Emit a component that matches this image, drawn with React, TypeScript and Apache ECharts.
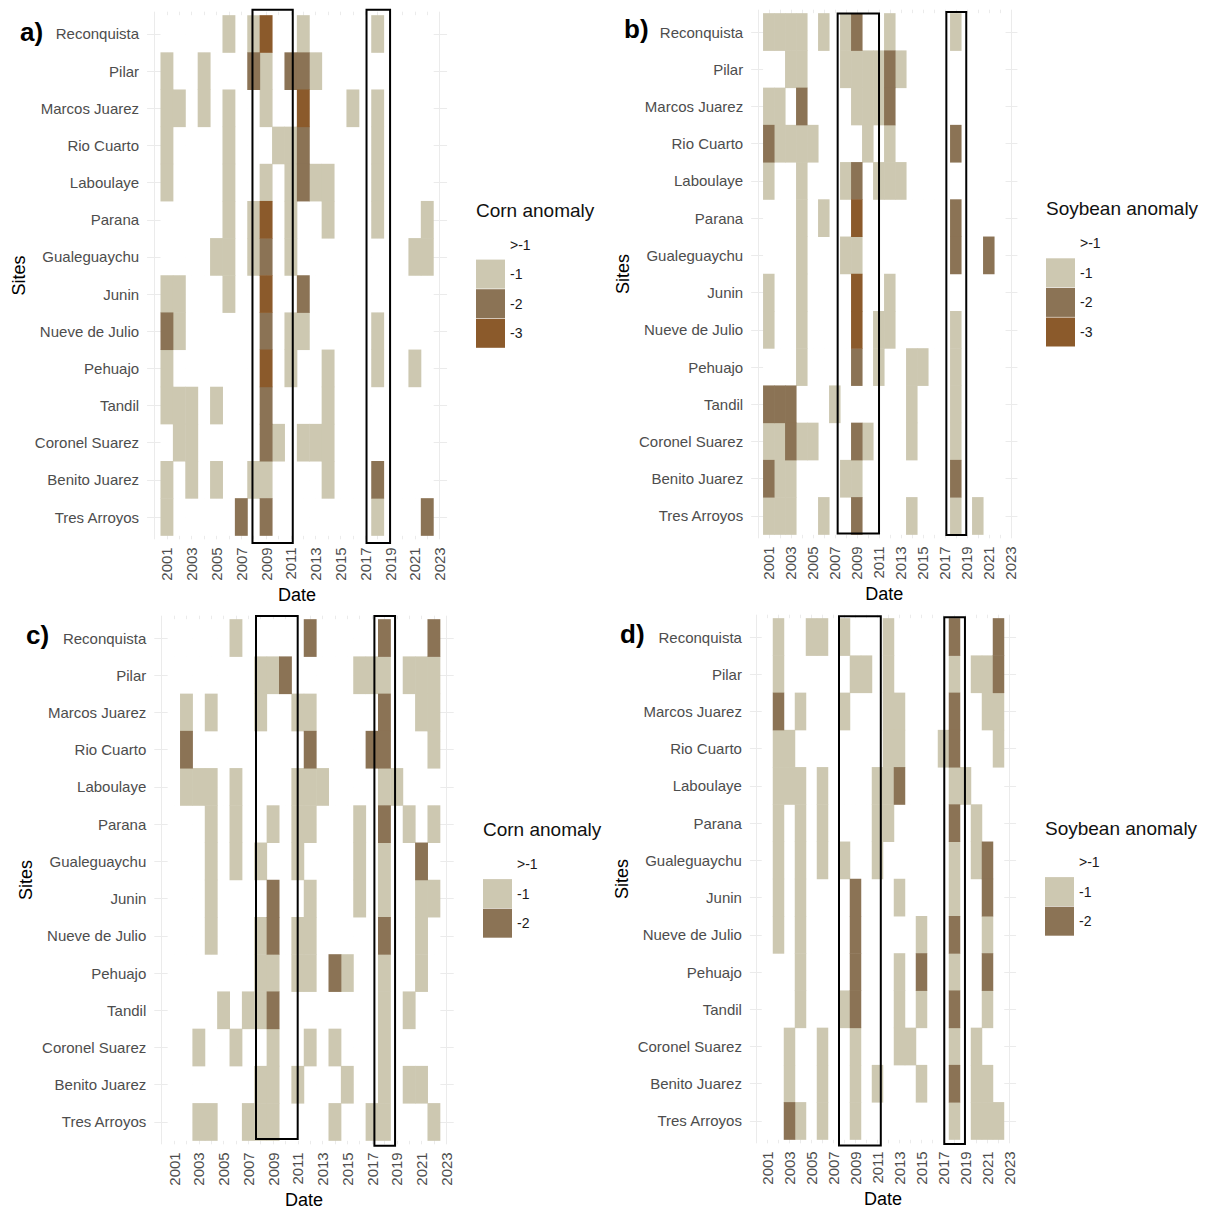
import React, { useEffect, useRef } from "react";
import * as echarts from "echarts";

// ---------- data ----------
const sites = [
  "Reconquista", "Pilar", "Marcos Juarez", "Rio Cuarto", "Laboulaye", "Parana", "Gualeguaychu",
  "Junin", "Nueve de Julio", "Pehuajo", "Tandil", "Coronel Suarez", "Benito Juarez", "Tres Arroyos",
];
const dataYears = [2001, 2002, 2003, 2004, 2005, 2006, 2007, 2008, 2009, 2010, 2011, 2012, 2013, 2014, 2015, 2016, 2017, 2018, 2019, 2020, 2021, 2022];
const tickYears = [2001, 2003, 2005, 2007, 2009, 2011, 2013, 2015, 2017, 2019, 2021, 2023];
const gridYears = [2000, 2001, 2002, 2003, 2004, 2005, 2006, 2007, 2008, 2009, 2010, 2011, 2012, 2013, 2014, 2015, 2016, 2017, 2018, 2019, 2020, 2021, 2022, 2023];
const classLabels = [">-1", "-1", "-2", "-3"];
const classColors = ["#FFFFFF", "#CDC8B1", "#8B7355", "#8B5A2B"];

// [year, class] pairs for each site (class 1 => -1, 2 => -2, 3 => -3; others are >-1)
const cornA: [number, number][][] = [
  [[2006, 1], [2008, 1], [2009, 3], [2012, 1], [2018, 1]],
  [[2001, 1], [2004, 1], [2008, 2], [2009, 1], [2011, 2], [2012, 2], [2013, 1]],
  [[2001, 1], [2002, 1], [2004, 1], [2006, 1], [2009, 1], [2012, 3], [2016, 1], [2018, 1]],
  [[2001, 1], [2006, 1], [2010, 1], [2011, 1], [2012, 2], [2018, 1]],
  [[2001, 1], [2006, 1], [2009, 1], [2011, 1], [2012, 2], [2013, 1], [2014, 1], [2018, 1]],
  [[2006, 1], [2008, 1], [2009, 3], [2011, 1], [2014, 1], [2018, 1], [2022, 1]],
  [[2005, 1], [2006, 1], [2008, 1], [2009, 2], [2011, 1], [2021, 1], [2022, 1]],
  [[2001, 1], [2002, 1], [2006, 1], [2009, 3], [2012, 2]],
  [[2001, 2], [2002, 1], [2009, 2], [2011, 1], [2012, 1], [2018, 1]],
  [[2001, 1], [2009, 3], [2011, 1], [2014, 1], [2018, 1], [2021, 1]],
  [[2001, 1], [2002, 1], [2003, 1], [2005, 1], [2009, 2], [2014, 1]],
  [[2002, 1], [2003, 1], [2009, 2], [2010, 1], [2012, 1], [2013, 1], [2014, 1]],
  [[2001, 1], [2003, 1], [2005, 1], [2008, 1], [2009, 1], [2014, 1], [2018, 2]],
  [[2001, 1], [2007, 2], [2009, 2], [2018, 1], [2022, 2]],
];
const soyB: [number, number][][] = [
  [[2001, 1], [2002, 1], [2003, 1], [2004, 1], [2006, 1], [2008, 1], [2009, 2], [2012, 1], [2018, 1]],
  [[2003, 1], [2004, 1], [2008, 1], [2009, 1], [2010, 1], [2011, 1], [2012, 2], [2013, 1]],
  [[2001, 1], [2002, 1], [2004, 2], [2009, 1], [2010, 1], [2011, 1], [2012, 2]],
  [[2001, 2], [2002, 1], [2003, 1], [2004, 1], [2005, 1], [2010, 1], [2012, 1], [2018, 2]],
  [[2001, 1], [2004, 1], [2008, 1], [2009, 2], [2011, 1], [2012, 1], [2013, 1]],
  [[2004, 1], [2006, 1], [2009, 3], [2018, 2]],
  [[2004, 1], [2008, 1], [2009, 1], [2018, 2], [2021, 2]],
  [[2001, 1], [2004, 1], [2009, 3], [2012, 1]],
  [[2001, 1], [2004, 1], [2009, 3], [2011, 1], [2012, 1], [2018, 1]],
  [[2004, 1], [2009, 2], [2011, 1], [2014, 1], [2015, 1], [2018, 1]],
  [[2001, 2], [2002, 2], [2003, 2], [2007, 1], [2014, 1], [2018, 1]],
  [[2001, 1], [2002, 1], [2003, 2], [2004, 1], [2005, 1], [2009, 2], [2010, 1], [2014, 1], [2018, 1]],
  [[2001, 2], [2002, 1], [2003, 1], [2008, 1], [2009, 1], [2018, 2]],
  [[2001, 1], [2002, 1], [2003, 1], [2006, 1], [2009, 2], [2014, 1], [2018, 1], [2020, 1]],
];
const cornC: [number, number][][] = [
  [[2006, 1], [2012, 2], [2018, 2], [2022, 2]],
  [[2008, 1], [2009, 1], [2010, 2], [2016, 1], [2017, 1], [2018, 1], [2020, 1], [2021, 1], [2022, 1]],
  [[2002, 1], [2004, 1], [2008, 1], [2011, 1], [2012, 1], [2018, 2], [2021, 1], [2022, 1]],
  [[2002, 2], [2012, 2], [2017, 2], [2018, 2], [2022, 1]],
  [[2002, 1], [2003, 1], [2004, 1], [2006, 1], [2011, 1], [2012, 1], [2013, 1], [2018, 1], [2019, 1]],
  [[2004, 1], [2006, 1], [2009, 1], [2011, 1], [2012, 1], [2016, 1], [2018, 2], [2020, 1], [2022, 1]],
  [[2004, 1], [2006, 1], [2008, 1], [2011, 1], [2016, 1], [2018, 1], [2021, 2]],
  [[2004, 1], [2009, 2], [2012, 1], [2016, 1], [2018, 1], [2021, 1], [2022, 1]],
  [[2004, 1], [2008, 1], [2009, 2], [2011, 1], [2012, 1], [2018, 2], [2021, 1]],
  [[2008, 1], [2009, 1], [2011, 1], [2012, 1], [2014, 2], [2015, 1], [2018, 1], [2021, 1]],
  [[2005, 1], [2007, 1], [2008, 1], [2009, 2], [2018, 1], [2020, 1]],
  [[2003, 1], [2006, 1], [2009, 1], [2012, 1], [2014, 1], [2018, 1]],
  [[2008, 1], [2009, 1], [2011, 1], [2015, 1], [2018, 1], [2020, 1], [2021, 1]],
  [[2003, 1], [2004, 1], [2007, 1], [2008, 1], [2009, 1], [2014, 1], [2017, 1], [2018, 1], [2022, 1]],
];
const soyD: [number, number][][] = [
  [[2002, 1], [2005, 1], [2006, 1], [2008, 1], [2012, 1], [2018, 2], [2022, 2]],
  [[2002, 1], [2009, 1], [2010, 1], [2012, 1], [2018, 1], [2020, 1], [2021, 1], [2022, 2]],
  [[2002, 2], [2004, 1], [2008, 1], [2012, 1], [2013, 1], [2018, 2], [2021, 1], [2022, 1]],
  [[2002, 1], [2003, 1], [2012, 1], [2013, 1], [2017, 1], [2018, 2], [2022, 1]],
  [[2002, 1], [2003, 1], [2004, 1], [2006, 1], [2011, 1], [2012, 1], [2013, 2], [2018, 1], [2019, 1]],
  [[2002, 1], [2004, 1], [2006, 1], [2011, 1], [2012, 1], [2018, 2], [2020, 1]],
  [[2002, 1], [2004, 1], [2006, 1], [2008, 1], [2011, 1], [2018, 1], [2020, 1], [2021, 2]],
  [[2002, 1], [2004, 1], [2009, 2], [2013, 1], [2018, 1], [2021, 2]],
  [[2002, 1], [2004, 1], [2009, 2], [2015, 1], [2018, 2], [2021, 1]],
  [[2004, 1], [2009, 2], [2013, 1], [2015, 2], [2018, 1], [2021, 2]],
  [[2004, 1], [2008, 1], [2009, 2], [2013, 1], [2015, 1], [2018, 2], [2021, 1]],
  [[2003, 1], [2006, 1], [2009, 1], [2013, 1], [2014, 1], [2018, 1], [2020, 1]],
  [[2003, 1], [2006, 1], [2009, 1], [2011, 1], [2015, 1], [2018, 2], [2020, 1], [2021, 1]],
  [[2003, 2], [2004, 1], [2006, 1], [2009, 1], [2018, 1], [2020, 1], [2021, 1], [2022, 1]],
];

// highlight boxes: [xStart, xEnd, yTop, yBottom] in axis units
const boxesA = [[2007.9, 2011.15, -0.65, 13.7], [2017.1, 2019.0, -0.65, 13.7]];
const boxesB = [[2007.26, 2011.02, -0.5, 13.47], [2017.14, 2018.95, -0.54, 13.51]];
const boxesC = [[2007.62, 2010.99, -0.59, 13.46], [2017.19, 2018.86, -0.59, 13.64]];
const boxesD = [[2007.5, 2011.3, -0.56, 13.66], [2017.07, 2018.95, -0.53, 13.62]];

// ---------- layout ----------
const FONT = "Liberation Sans, Arial, Helvetica, sans-serif";
const panels = [
  { letter: "a)", data: cornA, classes: 4, boxes: boxesA, title: "Corn anomaly",
    grid: { left: 147.1, top: 11.7, width: 300, height: 527.6 },
    letterPos: [20, 34], legendTitle: [476, 212], legendTop: 230, legendLeft: 476 },
  { letter: "b)", data: soyB, classes: 4, boxes: boxesB, title: "Soybean anomaly",
    grid: { left: 751.2, top: 9.7, width: 266.2, height: 528.6 },
    letterPos: [624, 31], legendTitle: [1046, 210], legendTop: 228.7, legendLeft: 1046 },
  { letter: "c)", data: cornC, classes: 3, boxes: boxesC, title: "Corn anomaly",
    grid: { left: 154.3, top: 615.7, width: 299.4, height: 528.6 },
    letterPos: [26, 637], legendTitle: [483, 831], legendTop: 849.5, legendLeft: 483 },
  { letter: "d)", data: soyD, classes: 3, boxes: boxesD, title: "Soybean anomaly",
    grid: { left: 749.9, top: 614.7, width: 266.2, height: 528.6 },
    letterPos: [620, 636], legendTitle: [1045, 830], legendTop: 847.5, legendLeft: 1045 },
];

const siteIdx = sites.map((_, i) => i);

function renderTile(params: any, api: any) {
  const x = api.value(0);
  const y = api.value(1);
  const a = api.coord([x - 0.5, y - 0.5]);
  const b = api.coord([x + 0.5, y + 0.5]);
  const pad = 0.25;
  return {
    type: "rect",
    shape: {
      x: Math.min(a[0], b[0]) - pad,
      y: Math.min(a[1], b[1]) - pad,
      width: Math.abs(b[0] - a[0]) + 2 * pad,
      height: Math.abs(b[1] - a[1]) + 2 * pad,
    },
    style: { fill: api.visual("color") },
  };
}

function renderBox(params: any, api: any) {
  const a = api.coord([api.value(0), api.value(2)]);
  const b = api.coord([api.value(1), api.value(3)]);
  return {
    type: "rect",
    shape: {
      x: Math.min(a[0], b[0]),
      y: Math.min(a[1], b[1]),
      width: Math.abs(b[0] - a[0]),
      height: Math.abs(b[1] - a[1]),
    },
    style: { fill: "none", stroke: "#000", lineWidth: 2 },
  };
}

function buildOption() {
  const grid: any[] = [];
  const xAxis: any[] = [];
  const yAxis: any[] = [];
  const series: any[] = [];
  const legend: any[] = [];
  const graphic: any[] = [];

  panels.forEach((p, pi) => {
    grid.push({ ...p.grid, containLabel: false });
    xAxis.push({
      type: "value", gridIndex: pi, min: 1999.4, max: 2023.6,
      name: "Date", nameLocation: "middle", nameGap: 47,
      nameTextStyle: { fontSize: 18, color: "#000", fontFamily: FONT },
      axisLine: { show: false },
      axisTick: { show: false, customValues: gridYears },
      axisLabel: {
        customValues: tickYears, rotate: 90, fontSize: 15, color: "#4d4d4d", margin: 8,
        fontFamily: FONT, formatter: (v: number) => String(v),
      },
      splitLine: { show: true, lineStyle: { color: "#ebebeb", width: 1 } },
    });
    yAxis.push({
      type: "value", gridIndex: pi, inverse: true, min: -0.6, max: 13.6,
      name: "Sites", nameLocation: "middle", nameGap: 119, nameRotate: 90,
      nameTextStyle: { fontSize: 18, color: "#000", fontFamily: FONT },
      axisLine: { show: false },
      axisTick: { show: false, customValues: siteIdx },
      axisLabel: {
        customValues: siteIdx, fontSize: 15, color: "#4d4d4d", margin: 8, fontFamily: FONT,
        formatter: (v: number) => sites[Math.round(v)] ?? "",
      },
      splitLine: { show: true, lineStyle: { color: "#ebebeb", width: 1 } },
    });

    // full matrix of classes
    const cells: number[][] = p.data.map((row) => {
      const m = new Map<number, number>(row.map(([yr, c]) => [yr, c]));
      return dataYears.map((yr) => m.get(yr) ?? 0);
    });

    for (let c = 0; c < p.classes; c++) {
      const pts: number[][] = [];
      cells.forEach((row, r) => {
        row.forEach((cls, k) => {
          if (cls === c) pts.push([dataYears[k], r]);
        });
      });
      series.push({
        type: "custom", name: classLabels[c], xAxisIndex: pi, yAxisIndex: pi,
        renderItem: renderTile, data: pts, z: c === 0 ? 1 : 2,
        itemStyle: { color: classColors[c] },
        encode: { x: 0, y: 1 }, silent: true,
      });
    }
    series.push({
      type: "custom", name: "box" + pi, xAxisIndex: pi, yAxisIndex: pi,
      renderItem: renderBox, data: p.boxes, z: 5, clip: false,
      encode: { x: [0, 1], y: [2, 3] }, silent: true,
    });

    legend.push({
      data: classLabels.slice(0, p.classes),
      left: p.legendLeft, top: p.legendTop, orient: "vertical",
      itemWidth: 29, itemHeight: 29, itemGap: 0.6, icon: "rect", padding: 0,
      selectedMode: false,
      textStyle: { fontSize: 14, color: "#1a1a1a", fontFamily: FONT, padding: [0, 0, 0, 0] },
    });

    graphic.push({
      type: "text", left: p.letterPos[0], top: p.letterPos[1] - 15,
      style: { text: p.letter, font: `bold 26px ${FONT}`, fill: "#000" },
    });
    graphic.push({
      type: "text", left: p.legendTitle[0], top: p.legendTitle[1] - 11,
      style: { text: p.title, font: `19px ${FONT}`, fill: "#111" },
    });
  });

  return {
    animation: false,
    backgroundColor: "#fff",
    textStyle: { fontFamily: FONT },
    grid, xAxis, yAxis, series, legend, graphic,
  };
}

export default function App() {
  const ref = useRef<HTMLDivElement>(null);
  useEffect(() => {
    document.body.style.margin = "0";
    if (!ref.current) return;
    const chart = echarts.init(ref.current, undefined, { renderer: "svg" });
    chart.setOption(buildOption() as any);
    return () => chart.dispose();
  }, []);
  return <div ref={ref} style={{ width: 1207, height: 1214 }} />;
}
